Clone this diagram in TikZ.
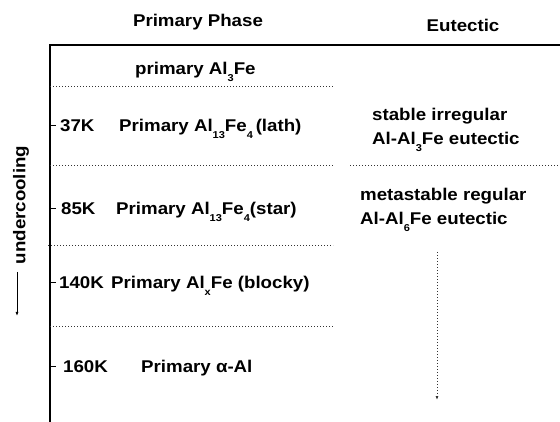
\documentclass[tikz,border=0pt]{standalone}
\usepackage{fontspec}
\setmainfont[FakeStretch=1.1]{Liberation Sans}
\usetikzlibrary{arrows.meta}
\newcommand{\sbs}[1]{\raisebox{-7pt}{\fontsize{10}{10}\selectfont #1}}
\tikzset{
  lbl/.style={anchor=base west, inner sep=0pt, font=\fontsize{17}{24}\selectfont\bfseries},
  hdr/.style={anchor=base, inner sep=0pt, font=\fontsize{17}{24}\selectfont\bfseries},
  axisline/.style={line width=1.3pt},
  sep/.style={line width=0.8pt, dash pattern=on 0.8pt off 2.2pt, black!80},
  tick/.style={line width=1pt},
  tip/.style={-{Latex[length=4pt,width=3pt]}}
}
\begin{document}
\begin{tikzpicture}[x=1pt,y=-1pt]
\useasboundingbox (0,0) rectangle (560,422);
% headers
\node[hdr] (hp) at (198,27) {Primary Phase};
\node[hdr] (he) at (463,32) {Eutectic};
% axes
\coordinate (ax0) at (50,45);
\coordinate (ax1) at (50,422);
\coordinate (top1) at (560,45);
\draw[axisline] (top1) -- (ax0) -- (ax1);
% dotted separators
\coordinate (d0a) at (50,86);  \coordinate (d0b) at (333,86);
\coordinate (d1a) at (50,165); \coordinate (d1b) at (333,165);
\coordinate (d1c) at (350,165); \coordinate (d1d) at (560,165);
\coordinate (d2a) at (48,245); \coordinate (d2b) at (333,245);
\coordinate (d3a) at (50,326); \coordinate (d3b) at (333,326);
\draw[sep] (d0a) -- (d0b);
\draw[sep] (d1a) -- (d1b);
\draw[sep] (d1c) -- (d1d);
\draw[sep] (d2a) -- (d2b);
\draw[sep] (d3a) -- (d3b);
% ticks
\coordinate (t1a) at (50,126); \coordinate (t1b) at (56,126);
\coordinate (t2a) at (50,209); \coordinate (t2b) at (56,209);
\coordinate (t3a) at (50,283); \coordinate (t3b) at (56,283);
\coordinate (t4a) at (50,366); \coordinate (t4b) at (56,366);
\draw[tick] (t1a) -- (t1b);
\draw[tick] (t2a) -- (t2b);
\draw[tick] (t3a) -- (t3b);
\draw[tick] (t4a) -- (t4b);
% primary phase labels
\node[lbl] (p0) at (135,75) {primary Al\sbs{3}Fe};
\node[lbl] (k1) at (60,132) {37K};
\node[lbl] (p1) at (119,132) {Primary Al\sbs{13}Fe\sbs{4}\,(lath)};
\node[lbl] (k2) at (61,215) {85K};
\node[lbl] (p2) at (116,215) {Primary Al\sbs{13}Fe\sbs{4}(star)};
\node[lbl] (k3) at (59,289) {140K};
\node[lbl] (p3) at (111,289) {Primary Al\sbs{x}Fe (blocky)};
\node[lbl] (k4) at (63,372) {160K};
\node[lbl] (p4) at (141,372) {Primary α-Al};
% eutectic labels
\node[lbl, align=left, anchor=north west] (e1) at (372,108) {stable irregular\\Al-Al\sbs{3}Fe eutectic};
\node[lbl, align=left, anchor=north west] (e2) at (360,188) {metastable regular\\Al-Al\sbs{6}Fe eutectic};
% dotted arrow
\coordinate (ea) at (437,252);
\coordinate (eb) at (437,400);
\draw[sep, tip] (ea) -- (eb);
% undercooling
\node[hdr, anchor=center, rotate=90] (uc) at (21,205) {undercooling};
\coordinate (ua) at (17,272);
\coordinate (ub) at (17,316);
\draw[line width=0.9pt, tip] (ua) -- (ub);
\end{tikzpicture}
\end{document}
